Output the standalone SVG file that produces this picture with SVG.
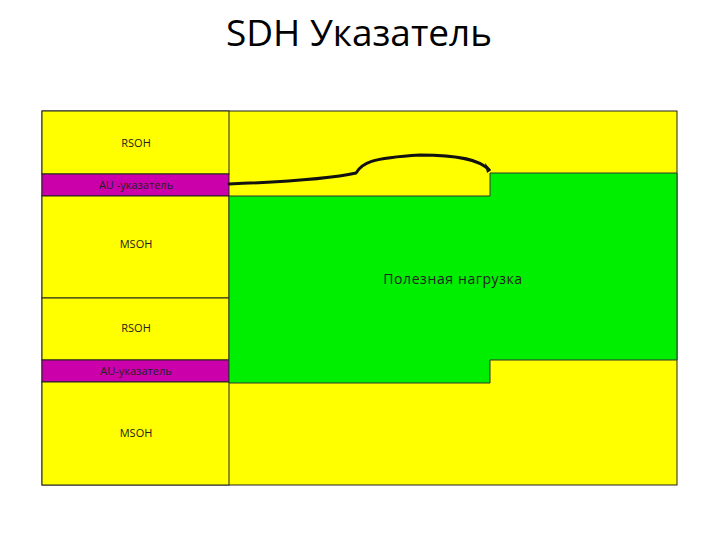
<svg xmlns="http://www.w3.org/2000/svg" width="720" height="540" viewBox="0 0 720 540">
<style>
.y{fill:#ffff00;stroke:#222;stroke-width:1}
.m{fill:#cc00aa;stroke:#222;stroke-width:1}
.g{fill:#00ee00;stroke:#333;stroke-width:1}
.t{font-family:"Open Sans","Noto Sans","DejaVu Sans",sans-serif;font-size:11px;fill:#222;text-anchor:middle}
</style>
<rect width="720" height="540" fill="#fff"/>
<text x="359" y="46" style="font-family:'Open Sans','Noto Sans',sans-serif;font-size:37px;fill:#000;text-anchor:middle">SDH Указатель</text>
<g id="frame">
<rect class="y" x="42" y="111" width="635" height="374"/>
</g>
<g id="rsoh1"><rect class="y" x="42" y="111" width="187" height="63"/><text class="t" x="136" y="147">RSOH</text></g>
<g id="au1"><rect class="m" x="42" y="174" width="187" height="22"/><text class="t" x="136" y="189">AU -указатель</text></g>
<g id="msoh1"><rect class="y" x="42" y="196" width="187" height="102"/><text class="t" x="136" y="248">MSOH</text></g>
<g id="rsoh2"><rect class="y" x="42" y="298" width="187" height="62"/><text class="t" x="136" y="332">RSOH</text></g>
<g id="au2"><rect class="m" x="42" y="360" width="187" height="22"/><text class="t" x="136" y="375">AU-указатель</text></g>
<g id="msoh2"><rect class="y" x="42" y="382" width="187" height="103"/><text class="t" x="136" y="437">MSOH</text></g>
<g id="payload">
<path class="g" d="M229,196 H490 V173 H677 V360 H490 V383 H229 Z"/>
<text x="453" y="284" style="font-family:'Open Sans','Noto Sans',sans-serif;font-size:14px;letter-spacing:0.6px;fill:#222;text-anchor:middle">Полезная нагрузка</text>
</g>
<g id="connectors">
<path d="M229,184 C280,182 330,179 356,173 C362,163 370,158 420,155 C460,155 480,160 489,170" fill="none" stroke="#111" stroke-width="3" stroke-linecap="round"/>
<path d="M485,163 L491,170 L487,173 Z" fill="#111"/>
</g>
</svg>
